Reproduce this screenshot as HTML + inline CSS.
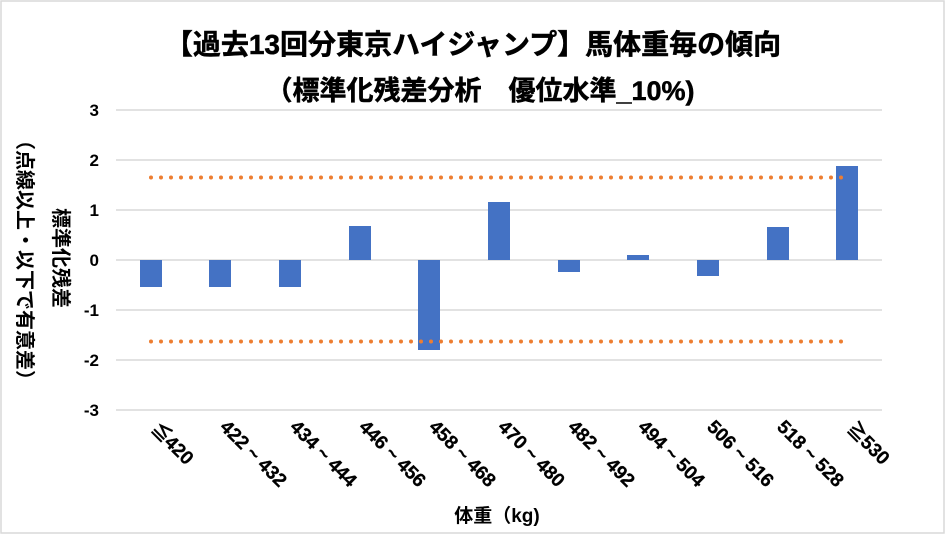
<!DOCTYPE html>
<html><head><meta charset="utf-8"><style>
body{margin:0;background:#fff;}
text{font-family:"Liberation Sans","Noto Sans CJK JP",sans-serif;font-weight:bold;}
</style></head><body>
<svg width="946" height="535" xmlns="http://www.w3.org/2000/svg">
<rect x="1" y="1" width="943" height="532" fill="#fff" stroke="#d9d9d9" stroke-width="1.5"/>
<text x="473" y="54" font-size="28" text-anchor="middle" stroke="#000" stroke-width="0.5">【過去13回分東京ハイジャンプ】馬体重毎の傾向</text>
<text x="480" y="100" font-size="27" text-anchor="middle" stroke="#000" stroke-width="0.5">（標準化残差分析　優位水準_10%)</text>
<g stroke="#d9d9d9" stroke-width="1.5">
<line x1="116" x2="882" y1="110" y2="110"/><line x1="116" x2="882" y1="160" y2="160"/>
<line x1="116" x2="882" y1="210" y2="210"/><line x1="116" x2="882" y1="260" y2="260"/>
<line x1="116" x2="882" y1="310" y2="310"/><line x1="116" x2="882" y1="360" y2="360"/>
<line x1="116" x2="882" y1="410" y2="410"/>
</g>
<g font-size="17" text-anchor="end">
<text x="99" y="116">3</text><text x="99" y="166">2</text><text x="99" y="216">1</text>
<text x="99" y="266">0</text><text x="99" y="316">-1</text><text x="99" y="366">-2</text><text x="99" y="416">-3</text>
</g>
<g fill="#4472c4">
<rect x="140" y="260" width="22" height="27"/>
<rect x="209" y="260" width="22" height="27"/>
<rect x="279" y="260" width="22" height="27"/>
<rect x="349" y="226" width="22" height="34"/>
<rect x="418" y="260" width="22" height="90"/>
<rect x="488" y="202" width="22" height="58"/>
<rect x="558" y="260" width="22" height="12"/>
<rect x="627" y="255" width="22" height="5"/>
<rect x="697" y="260" width="22" height="16"/>
<rect x="767" y="227" width="22" height="33"/>
<rect x="836" y="166" width="22" height="94"/>
</g>
<g stroke="#ed7d31" stroke-width="4" stroke-linecap="round" stroke-dasharray="0 10">
<line x1="151" x2="842" y1="177.5" y2="177.5"/>
<line x1="151" x2="842" y1="341.5" y2="341.5"/>
</g>
<g font-size="19" stroke="#000" stroke-width="0.3">
<text transform="translate(150,430) rotate(45)">≦420</text>
<text transform="translate(219,428) rotate(45)">422 ~ 432</text>
<text transform="translate(289,428) rotate(45)">434 ~ 444</text>
<text transform="translate(358,428) rotate(45)">446 ~ 456</text>
<text transform="translate(428,428) rotate(45)">458 ~ 468</text>
<text transform="translate(497,428) rotate(45)">470 ~ 480</text>
<text transform="translate(567,428) rotate(45)">482 ~ 492</text>
<text transform="translate(637,428) rotate(45)">494 ~ 504</text>
<text transform="translate(706,428) rotate(45)">506 ~ 516</text>
<text transform="translate(776,428) rotate(45)">518 ~ 528</text>
<text transform="translate(846,430) rotate(45)">≧530</text>
</g>
<text x="497" y="522" font-size="19" text-anchor="middle">体重（kg)</text>
<text transform="translate(54,258) rotate(90)" font-size="20" text-anchor="middle">標準化残差</text>
<text transform="translate(18,260) rotate(90)" font-size="20" text-anchor="middle">（点線以上・以下で有意差）</text>
</svg>
</body></html>
